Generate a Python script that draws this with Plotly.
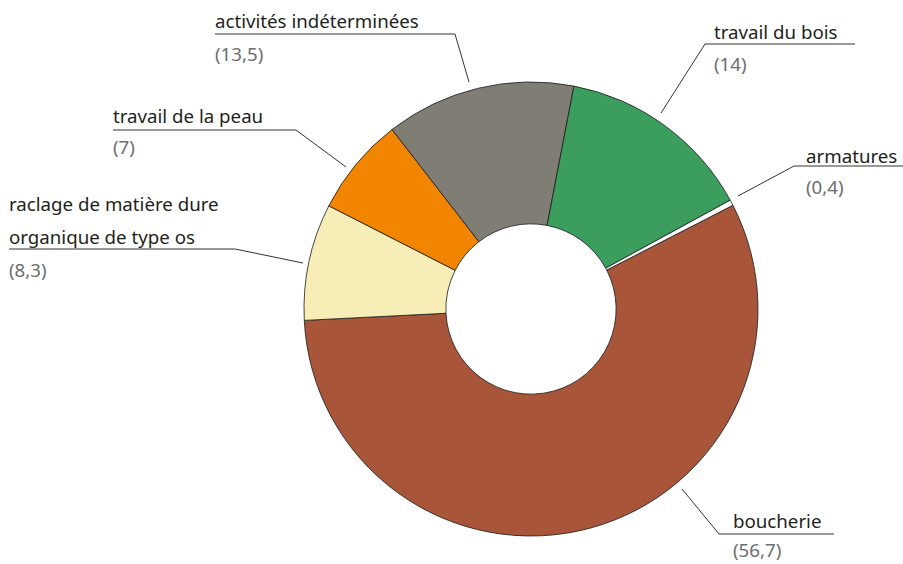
import plotly.graph_objects as go

categories = ["boucherie", "raclage de matière dure<br>organique de type os", "travail de la peau",
              "activités indéterminées", "travail du bois", "armatures"]
values = [56.7, 8.3, 7, 13.5, 14, 0.4]
value_labels = ["(56,7)", "(8,3)", "(7)", "(13,5)", "(14)", "(0,4)"]
colors = ["#A8553A", "#F7EDB6", "#F28500", "#807D74", "#3C9E5E", "#FFFFFF"]

W, H = 903, 564
def px(x): return x / W
def py(y): return 1 - y / H

fig = go.Figure()
fig.add_trace(go.Pie(
    labels=categories, values=values, sort=False, direction="clockwise",
    rotation=62.8, hole=0.375, textinfo="none", hoverinfo="label+value",
    marker=dict(colors=colors, line=dict(color="#1a1a1a", width=0.8)),
    domain=dict(x=[px(304), px(758)], y=[py(536), py(82)]),
    showlegend=False,
))

# label layout: (text lines, text left x, first line center y, underline y, underline x0, x1, pointer end, value y)
label_layout = [
    (["boucherie"], 733, 520, 534, 719, 834, (682, 489), 549),
    (["raclage de matière dure", "organique de type os"], 9, 203, 249, 9, 235, (303, 263), 269),
    (["travail de la peau"], 113, 115, 130, 113, 296, (346, 167), 146),
    (["activités indéterminées"], 215, 20, 34, 215, 455, (469, 82), 53),
    (["travail du bois"], 714, 32, 44, 705, 855, (661, 113), 64),
    (["armatures"], 806, 155, 166, 794, 903, (738, 196), 186),
]

font_family = "Noto Sans"
fsize = 18.7
for (lines, tx, ty, uy, ux0, ux1, pend, vy), val in zip(label_layout, value_labels):
    for i, t in enumerate(lines):
        fig.add_annotation(x=px(tx), y=py(ty + i * 33), xref="paper", yref="paper",
                           text=t, showarrow=False, xanchor="left", yanchor="middle",
                           xshift=-2, font=dict(family=font_family, size=fsize, color="#231f20"))
    fig.add_annotation(x=px(tx), y=py(vy), xref="paper", yref="paper",
                       text=val, showarrow=False, xanchor="left", yanchor="middle",
                       xshift=-2, font=dict(family=font_family, size=fsize, color="#6d6e71"))
    fig.add_shape(type="line", xref="paper", yref="paper", x0=px(ux0), x1=px(ux1),
                  y0=py(uy), y1=py(uy), line=dict(color="#333333", width=1))
    cx = ux1 if pend[0] > ux1 else ux0
    fig.add_shape(type="line", xref="paper", yref="paper", x0=px(cx), y0=py(uy),
                  x1=px(pend[0]), y1=py(pend[1]), line=dict(color="#333333", width=1))

fig.update_layout(width=W, height=H, margin=dict(l=0, r=0, t=0, b=0),
                  paper_bgcolor="white", plot_bgcolor="white")
fig.write_html("out.html", config={"displayModeBar": False},
               post_script="document.body.style.margin='0';document.body.style.overflow='hidden';")
